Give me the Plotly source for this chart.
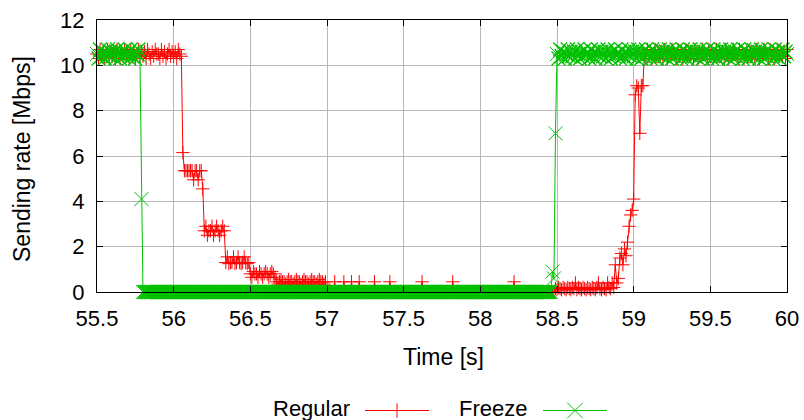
import numpy as np
import plotly.graph_objects as go

# ---------------- data ----------------
# sampling grid of the trace (s), 10 ms steps
time = np.round(np.arange(55.50, 60.0001, 0.01), 2)

regular = [
    # 55.50 - 56.04
    10.5, 10.3, 10.7, 10.4, 10.6, 10.3, 10.5, 10.7, 10.4, 10.6,
    10.4, 10.6, 10.3, 10.7, 10.5, 10.3, 10.6, 10.4, 10.7, 10.5,
    10.5, 10.3, 10.7, 10.4, 10.6, 10.3, 10.5, 10.7, 10.4, 10.6,
    10.4, 10.6, 10.3, 10.7, 10.5, 10.3, 10.6, 10.4, 10.7, 10.5,
    10.5, 10.3, 10.7, 10.4, 10.6, 10.3, 10.5, 10.7, 10.4, 10.6,
    10.4, 10.6, 10.3, 10.7, 10.5,
    # 56.05
    10.4,
    # 56.06
    6.15,
    # 56.07 - 56.18
    5.35, 5.35, 5.35, 5.35, 5.35, 5.35, 4.95, 5.35, 5.35, 4.95,
    5.35, 5.35,
    # 56.19
    4.55,
    # 56.20 - 56.33
    2.7, 2.9, 2.5, 2.7, 2.7, 2.9, 2.5, 2.7, 2.9, 2.7,
    2.5, 2.7, 2.9, 2.7,
    # 56.34 - 56.49
    1.3, 1.55, 1.25, 1.3, 1.3, 1.55, 1.25, 1.3, 1.55, 1.3,
    1.25, 1.3, 1.55, 1.3, 1.25, 1.3,
    # 56.50 - 56.66
    0.8, 0.65, 0.9, 0.8, 0.8, 0.65, 0.9, 0.8, 0.65, 0.8,
    0.9, 0.8, 0.65, 0.8, 0.9, 0.8, 0.65,
    # 56.67 - 56.99
    0.45, 0.35, 0.45, 0.55, 0.45, 0.45, 0.35, 0.45, 0.55, 0.45,
    0.45, 0.35, 0.45, 0.55, 0.45, 0.45, 0.35, 0.45, 0.55, 0.45,
    0.45, 0.35, 0.45, 0.55, 0.45, 0.45, 0.35, 0.45, 0.55, 0.45,
    0.45, 0.35, 0.45,
    # 57.00 - 58.48
    0, 0, 0, 0, 0, 0.45, 0, 0, 0, 0,
    0, 0.45, 0, 0, 0, 0, 0.45, 0, 0, 0,
    0, 0.45, 0, 0, 0, 0, 0, 0, 0, 0,
    0, 0.45, 0, 0, 0, 0, 0, 0, 0, 0,
    0, 0.45, 0, 0, 0, 0, 0, 0, 0, 0,
    0, 0, 0, 0, 0, 0, 0, 0, 0, 0,
    0, 0, 0.45, 0, 0, 0, 0, 0, 0, 0,
    0, 0, 0, 0, 0, 0, 0, 0, 0, 0,
    0, 0, 0.45, 0, 0, 0, 0, 0, 0, 0,
    0, 0, 0, 0, 0, 0, 0, 0, 0, 0,
    0, 0, 0, 0, 0, 0, 0, 0, 0, 0,
    0, 0, 0, 0, 0, 0, 0, 0, 0, 0,
    0, 0, 0.45, 0, 0, 0, 0, 0, 0, 0,
    0, 0, 0, 0, 0, 0, 0, 0, 0, 0,
    0, 0, 0, 0, 0, 0, 0, 0, 0,
    # 58.49 - 58.85
    0.15, 0.1, 0.2, 0.15, 0.1, 0.2, 0.15, 0.1, 0.2, 0.15,
    0.1, 0.2, 0.15, 0.4, 0.1, 0.2, 0.15, 0.1, 0.2, 0.15,
    0.1, 0.2, 0.15, 0.1, 0.2, 0.15, 0.1, 0.2, 0.4, 0.15,
    0.1, 0.2, 0.15, 0.1, 0.4, 0.2, 0.15,
    # 58.86 - 59.06
    0.4, 0.2, 1.2, 0.4, 0.6, 1.5, 1.7, 1.2, 1.9, 1.6,
    2.2, 2.9, 3.4, 3.6, 4.1, 8.7, 9.1, 9.0, 7.0, 9.1,
    9.1,
    # 59.07 - 60.00
    10.5, 10.3, 10.7, 10.4, 10.6, 10.3, 10.5, 10.7, 10.4, 10.6,
    10.4, 10.6, 10.3, 10.7, 10.5, 10.3, 10.6, 10.4, 10.7, 10.5,
    10.5, 10.3, 10.7, 10.4, 10.6, 10.3, 10.5, 10.7, 10.4, 10.6,
    10.4, 10.6, 10.3, 10.7, 10.5, 10.3, 10.6, 10.4, 10.7, 10.5,
    10.5, 10.3, 10.7, 10.4, 10.6, 10.3, 10.5, 10.7, 10.4, 10.6,
    10.4, 10.6, 10.3, 10.7, 10.5, 10.3, 10.6, 10.4, 10.7, 10.5,
    10.5, 10.3, 10.7, 10.4, 10.6, 10.3, 10.5, 10.7, 10.4, 10.6,
    10.4, 10.6, 10.3, 10.7, 10.5, 10.3, 10.6, 10.4, 10.7, 10.5,
    10.5, 10.3, 10.7, 10.4, 10.6, 10.3, 10.5, 10.7, 10.4, 10.6,
    10.4, 10.6, 10.3, 10.7,
]

freeze = [
    # 55.50 - 55.78
    10.5, 10.3, 10.7, 10.4, 10.6, 10.3, 10.5, 10.7, 10.4, 10.6,
    10.4, 10.6, 10.3, 10.7, 10.5, 10.3, 10.6, 10.4, 10.7, 10.5,
    10.5, 10.3, 10.7, 10.4, 10.6, 10.3, 10.5, 10.7, 10.4,
    # 55.79
    4.1,
    # 55.80 - 58.46
    0, 0, 0, 0, 0, 0, 0, 0, 0, 0,
    0, 0, 0, 0, 0, 0, 0, 0, 0, 0,
    0, 0, 0, 0, 0, 0, 0, 0, 0, 0,
    0, 0, 0, 0, 0, 0, 0, 0, 0, 0,
    0, 0, 0, 0, 0, 0, 0, 0, 0, 0,
    0, 0, 0, 0, 0, 0, 0, 0, 0, 0,
    0, 0, 0, 0, 0, 0, 0, 0, 0, 0,
    0, 0, 0, 0, 0, 0, 0, 0, 0, 0,
    0, 0, 0, 0, 0, 0, 0, 0, 0, 0,
    0, 0, 0, 0, 0, 0, 0, 0, 0, 0,
    0, 0, 0, 0, 0, 0, 0, 0, 0, 0,
    0, 0, 0, 0, 0, 0, 0, 0, 0, 0,
    0, 0, 0, 0, 0, 0, 0, 0, 0, 0,
    0, 0, 0, 0, 0, 0, 0, 0, 0, 0,
    0, 0, 0, 0, 0, 0, 0, 0, 0, 0,
    0, 0, 0, 0, 0, 0, 0, 0, 0, 0,
    0, 0, 0, 0, 0, 0, 0, 0, 0, 0,
    0, 0, 0, 0, 0, 0, 0, 0, 0, 0,
    0, 0, 0, 0, 0, 0, 0, 0, 0, 0,
    0, 0, 0, 0, 0, 0, 0, 0, 0, 0,
    0, 0, 0, 0, 0, 0, 0, 0, 0, 0,
    0, 0, 0, 0, 0, 0, 0, 0, 0, 0,
    0, 0, 0, 0, 0, 0, 0, 0, 0, 0,
    0, 0, 0, 0, 0, 0, 0, 0, 0, 0,
    0, 0, 0, 0, 0, 0, 0, 0, 0, 0,
    0, 0, 0, 0, 0, 0, 0, 0, 0, 0,
    0, 0, 0, 0, 0, 0, 0,
    # 58.47 - 58.49
    0.9, 0.6, 7.0,
    # 58.50 - 60.00
    10.5, 10.3, 10.7, 10.4, 10.6, 10.3, 10.5, 10.7, 10.4, 10.6,
    10.4, 10.6, 10.3, 10.7, 10.5, 10.3, 10.6, 10.4, 10.7, 10.5,
    10.5, 10.3, 10.7, 10.4, 10.6, 10.3, 10.5, 10.7, 10.4, 10.6,
    10.4, 10.6, 10.3, 10.7, 10.5, 10.3, 10.6, 10.4, 10.7, 10.5,
    10.5, 10.3, 10.7, 10.4, 10.6, 10.3, 10.5, 10.7, 10.4, 10.6,
    10.4, 10.6, 10.3, 10.7, 10.5, 10.3, 10.6, 10.4, 10.7, 10.5,
    10.5, 10.3, 10.7, 10.4, 10.6, 10.3, 10.5, 10.7, 10.4, 10.6,
    10.4, 10.6, 10.3, 10.7, 10.5, 10.3, 10.6, 10.4, 10.7, 10.5,
    10.5, 10.3, 10.7, 10.4, 10.6, 10.3, 10.5, 10.7, 10.4, 10.6,
    10.4, 10.6, 10.3, 10.7, 10.5, 10.3, 10.6, 10.4, 10.7, 10.5,
    10.5, 10.3, 10.7, 10.4, 10.6, 10.3, 10.5, 10.7, 10.4, 10.6,
    10.4, 10.6, 10.3, 10.7, 10.5, 10.3, 10.6, 10.4, 10.7, 10.5,
    10.5, 10.3, 10.7, 10.4, 10.6, 10.3, 10.5, 10.7, 10.4, 10.6,
    10.4, 10.6, 10.3, 10.7, 10.5, 10.3, 10.6, 10.4, 10.7, 10.5,
    10.5, 10.3, 10.7, 10.4, 10.6, 10.3, 10.5, 10.7, 10.4, 10.6,
    10.5,
]

series_names = ["Regular", "Freeze"]
x_ticks = [55.5, 56, 56.5, 57, 57.5, 58, 58.5, 59, 59.5, 60]
y_ticks = [0, 2, 4, 6, 8, 10, 12]

t_reg, v_reg = time[:len(regular)], np.asarray(regular, float)
t_frz, v_frz = time[:len(freeze)], np.asarray(freeze, float)


def stroke_widths(v, dense=1.3, single=1.0):
    """Slightly heavier strokes where markers pile up in a dense run."""
    w = np.full(len(v), single)
    for i in range(1, len(v) - 1):
        if abs(v[i] - v[i - 1]) < 0.5 and abs(v[i] - v[i + 1]) < 0.5:
            w[i] = dense
    return w


# ---------------- style ----------------
W, H = 804, 420
PL, PR, PT, PB = 97, 787, 20, 292
RED = "#ff0000"
GREEN = "#00c000"
FONT = "Liberation Sans, Arial, sans-serif"
FS = 22
FS_TITLE = 23
MS_PLUS = 9.5   # cross-thin spans 1.4 * size
MS_X = 14       # x-thin spans 1.0 * size

fig = go.Figure()
fig.add_trace(go.Scatter(
    x=t_reg, y=v_reg, mode="lines+markers", name=series_names[0],
    line=dict(color=RED, width=1),
    marker=dict(symbol="cross-thin", size=MS_PLUS,
                line=dict(color=RED, width=1)),
    cliponaxis=False, showlegend=False,
))
fig.add_trace(go.Scatter(
    x=t_frz, y=v_frz, mode="lines+markers", name=series_names[1],
    line=dict(color=GREEN, width=1),
    marker=dict(symbol="x-thin", size=MS_X,
                line=dict(color=GREEN, width=stroke_widths(v_frz))),
    cliponaxis=False, showlegend=False,
))

# legend samples drawn on a hidden pixel-space axis pair
leg = [
    (series_names[0], RED, "cross-thin", MS_PLUS, 352, 365, 429),
    (series_names[1], GREEN, "x-thin", MS_X, 529, 543, 607),
]
LEG_Y = 410.5
for name, col, sym, ms, txt_right, x0, x1 in leg:
    fig.add_trace(go.Scatter(
        x=[x0, x1], y=[LEG_Y, LEG_Y], mode="lines", xaxis="x2", yaxis="y2",
        line=dict(color=col, width=1), showlegend=False, hoverinfo="skip",
    ))
    fig.add_trace(go.Scatter(
        x=[(x0 + x1) / 2], y=[LEG_Y], mode="markers", xaxis="x2", yaxis="y2",
        marker=dict(symbol=sym, size=ms * 1.1, line=dict(color=col, width=1)),
        showlegend=False, hoverinfo="skip", cliponaxis=False,
    ))
    fig.add_annotation(
        x=txt_right / W, y=1 - 408 / H, xref="paper", yref="paper",
        text=name, showarrow=False, xanchor="right", yanchor="middle",
        font=dict(family=FONT, size=FS, color="black"),
    )

axis_common = dict(
    showline=True, linecolor="black", linewidth=1, mirror="ticks",
    ticks="inside", ticklen=6, tickcolor="black", tickwidth=1,
    showgrid=True, gridcolor="#b8b8b8", gridwidth=1, zeroline=False,
    automargin=False, ticklabelstandoff=7, layer="above traces",
    tickfont=dict(family=FONT, size=FS, color="black"),
)

fig.update_layout(
    template="none",
    width=W, height=H,
    margin=dict(l=0, r=0, t=0, b=0, pad=0, autoexpand=False),
    paper_bgcolor="white", plot_bgcolor="rgba(0,0,0,0)", showlegend=False,
    xaxis=dict(range=[55.5, 60], tickvals=x_ticks,
               ticktext=[f"{v:g}" for v in x_ticks],
               domain=[PL / W, PR / W], anchor="y", **axis_common),
    yaxis=dict(range=[0, 12], tickvals=y_ticks,
               domain=[1 - PB / H, 1 - PT / H], anchor="x", **axis_common),
    xaxis2=dict(range=[0, W], domain=[0, 1], visible=False, anchor="y2",
                fixedrange=True, automargin=False),
    yaxis2=dict(range=[H, 0], domain=[0, 1], visible=False, anchor="x2",
                fixedrange=True, automargin=False),
)

fig.add_annotation(
    x=443 / W, y=1 - 357 / H, xref="paper", yref="paper", text="Time [s]",
    showarrow=False, xanchor="center", yanchor="middle",
    font=dict(family=FONT, size=FS_TITLE, color="black"),
)
fig.add_annotation(
    x=22 / W, y=1 - 159 / H, xref="paper", yref="paper",
    text="Sending rate [Mbps]", textangle=-90, showarrow=False,
    xanchor="center", yanchor="middle",
    font=dict(family=FONT, size=FS_TITLE, color="black"),
)

fig.write_html("out.html")
